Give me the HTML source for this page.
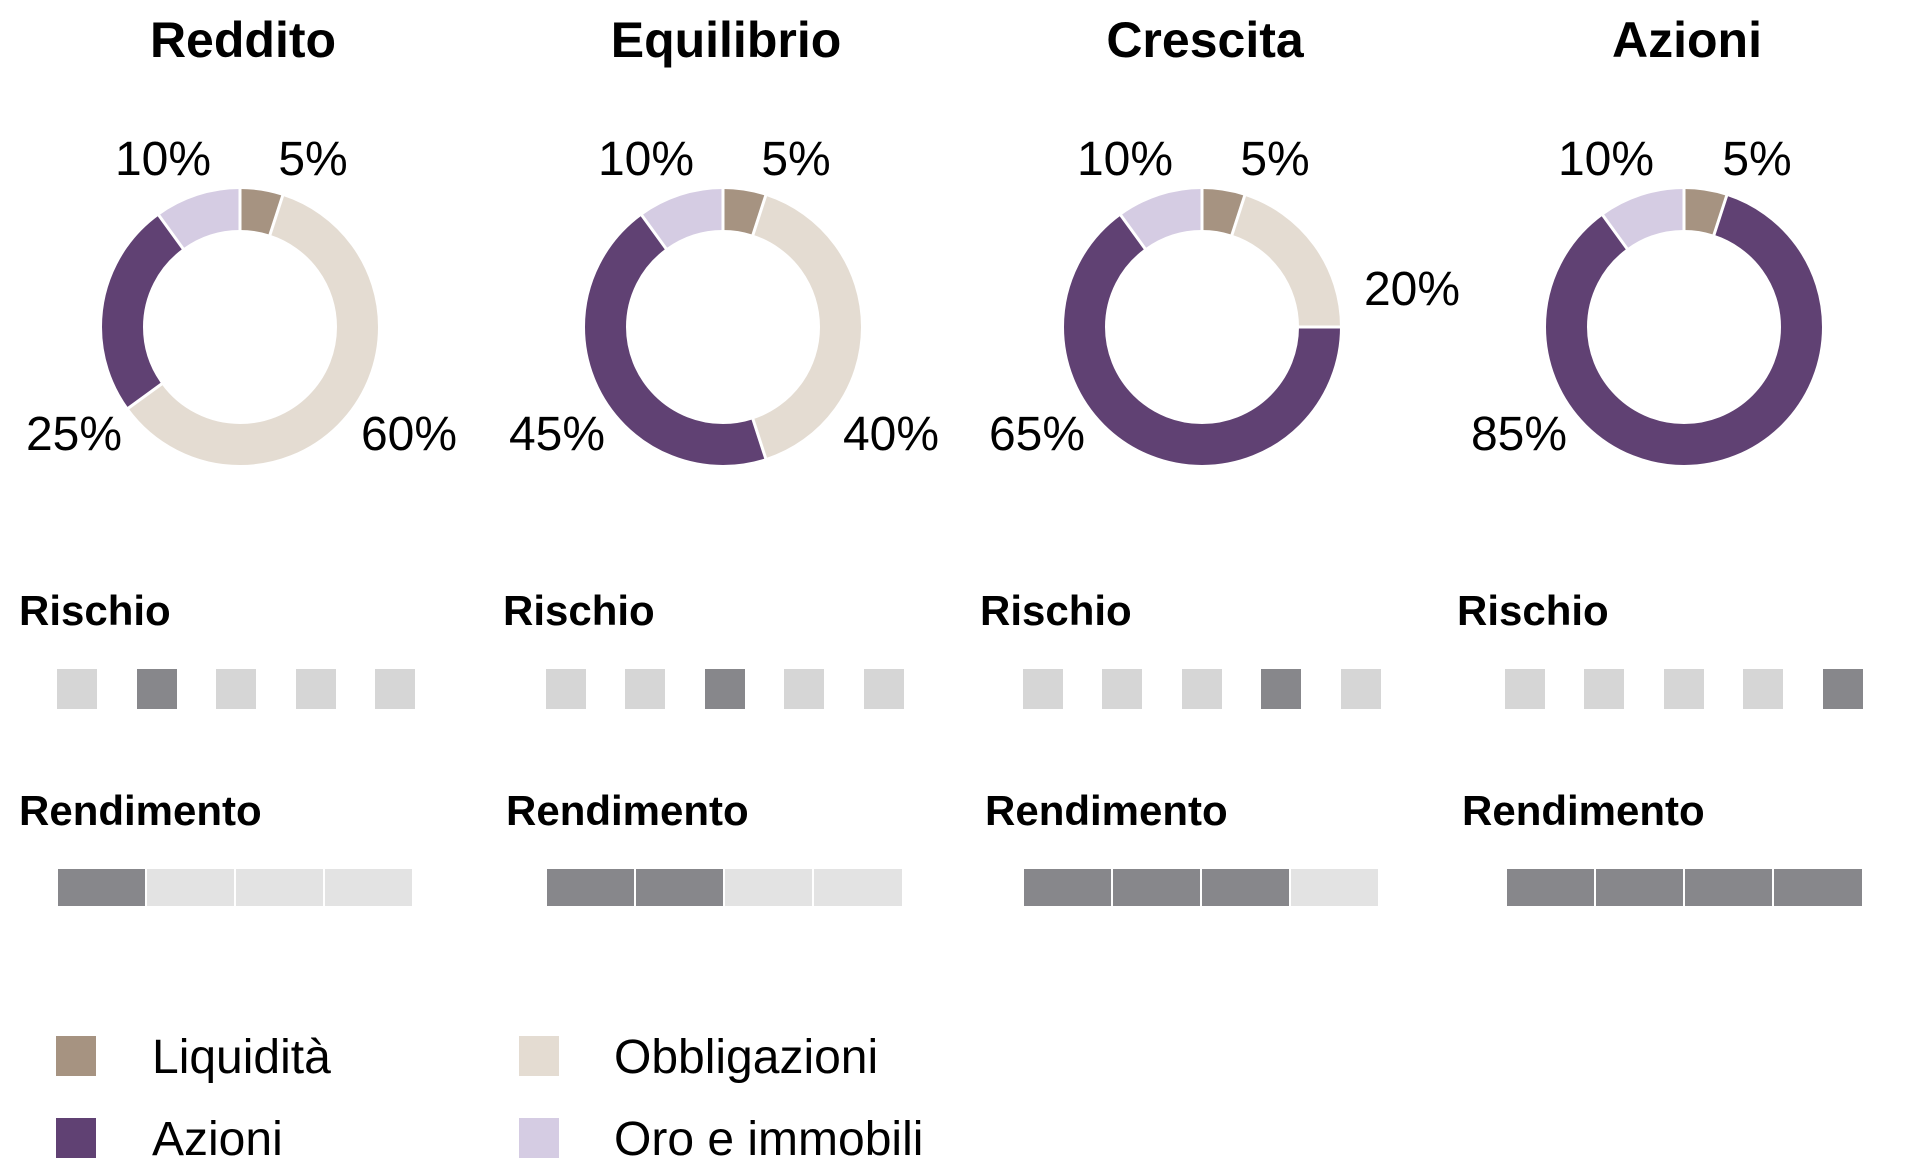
<!DOCTYPE html>
<html><head><meta charset="utf-8"><style>
html,body{margin:0;padding:0;background:#fff;}
svg{display:block;}
text{font-family:"Liberation Sans",Arial,sans-serif;fill:#000;}
.t{font-weight:bold;font-size:50px;text-anchor:middle;}
.p{font-size:48px;text-anchor:middle;}
.h{font-weight:bold;font-size:42px;}
.l{font-size:48px;}
</style></head><body>
<svg width="1920" height="1176" viewBox="0 0 1920 1176">
<defs>
<g id="sep" stroke="#fff" stroke-width="3"><line x1="0" y1="-94" x2="0" y2="-142"/></g>
</defs>
<text class="t" x="243" y="57">Reddito</text>
<text class="t" x="726" y="57">Equilibrio</text>
<text class="t" x="1205" y="57">Crescita</text>
<text class="t" x="1687" y="57">Azioni</text>

<g transform="translate(240,327)" fill="none" stroke-width="41">
<g transform="rotate(-90)">
<circle r="117.5" pathLength="100" stroke="#a69381" stroke-dasharray="5 100" stroke-dashoffset="0"/>
<circle r="117.5" pathLength="100" stroke="#e4dcd2" stroke-dasharray="60 100" stroke-dashoffset="-5"/>
<circle r="117.5" pathLength="100" stroke="#604173" stroke-dasharray="25 100" stroke-dashoffset="-65"/>
<circle r="117.5" pathLength="100" stroke="#d5cce3" stroke-dasharray="10 100" stroke-dashoffset="-90"/>
</g>
<use href="#sep"/><use href="#sep" transform="rotate(18)"/><use href="#sep" transform="rotate(234)"/><use href="#sep" transform="rotate(324)"/>
</g>
<g transform="translate(723,327)" fill="none" stroke-width="41">
<g transform="rotate(-90)">
<circle r="117.5" pathLength="100" stroke="#a69381" stroke-dasharray="5 100" stroke-dashoffset="0"/>
<circle r="117.5" pathLength="100" stroke="#e4dcd2" stroke-dasharray="40 100" stroke-dashoffset="-5"/>
<circle r="117.5" pathLength="100" stroke="#604173" stroke-dasharray="45 100" stroke-dashoffset="-45"/>
<circle r="117.5" pathLength="100" stroke="#d5cce3" stroke-dasharray="10 100" stroke-dashoffset="-90"/>
</g>
<use href="#sep"/><use href="#sep" transform="rotate(18)"/><use href="#sep" transform="rotate(162)"/><use href="#sep" transform="rotate(324)"/>
</g>
<g transform="translate(1202,327)" fill="none" stroke-width="41">
<g transform="rotate(-90)">
<circle r="117.5" pathLength="100" stroke="#a69381" stroke-dasharray="5 100" stroke-dashoffset="0"/>
<circle r="117.5" pathLength="100" stroke="#e4dcd2" stroke-dasharray="20 100" stroke-dashoffset="-5"/>
<circle r="117.5" pathLength="100" stroke="#604173" stroke-dasharray="65 100" stroke-dashoffset="-25"/>
<circle r="117.5" pathLength="100" stroke="#d5cce3" stroke-dasharray="10 100" stroke-dashoffset="-90"/>
</g>
<use href="#sep"/><use href="#sep" transform="rotate(18)"/><use href="#sep" transform="rotate(90)"/><use href="#sep" transform="rotate(324)"/>
</g>
<g transform="translate(1684,327)" fill="none" stroke-width="41">
<g transform="rotate(-90)">
<circle r="117.5" pathLength="100" stroke="#a69381" stroke-dasharray="5 100" stroke-dashoffset="0"/>
<circle r="117.5" pathLength="100" stroke="#604173" stroke-dasharray="85 100" stroke-dashoffset="-5"/>
<circle r="117.5" pathLength="100" stroke="#d5cce3" stroke-dasharray="10 100" stroke-dashoffset="-90"/>
</g>
<use href="#sep"/><use href="#sep" transform="rotate(18)"/><use href="#sep" transform="rotate(324)"/>
</g>

<text class="p" x="163" y="175">10%</text><text class="p" x="313" y="175">5%</text>
<text class="p" x="74" y="450">25%</text><text class="p" x="409" y="450">60%</text>
<text class="p" x="646" y="175">10%</text><text class="p" x="796" y="175">5%</text>
<text class="p" x="557" y="450">45%</text><text class="p" x="891" y="450">40%</text>
<text class="p" x="1125" y="175">10%</text><text class="p" x="1275" y="175">5%</text>
<text class="p" x="1412" y="305">20%</text><text class="p" x="1037" y="450">65%</text>
<text class="p" x="1606" y="175">10%</text><text class="p" x="1757" y="175">5%</text>
<text class="p" x="1519" y="450">85%</text>

<text class="h" x="19" y="625">Rischio</text>
<text class="h" x="503" y="625">Rischio</text>
<text class="h" x="980" y="625">Rischio</text>
<text class="h" x="1457" y="625">Rischio</text>
<g>
<rect x="57" y="669" width="40" height="40" fill="#d6d6d6"/><rect x="137" y="669" width="40" height="40" fill="#87878b"/><rect x="216" y="669" width="40" height="40" fill="#d6d6d6"/><rect x="296" y="669" width="40" height="40" fill="#d6d6d6"/><rect x="375" y="669" width="40" height="40" fill="#d6d6d6"/>
<rect x="546" y="669" width="40" height="40" fill="#d6d6d6"/><rect x="625" y="669" width="40" height="40" fill="#d6d6d6"/><rect x="705" y="669" width="40" height="40" fill="#87878b"/><rect x="784" y="669" width="40" height="40" fill="#d6d6d6"/><rect x="864" y="669" width="40" height="40" fill="#d6d6d6"/>
<rect x="1023" y="669" width="40" height="40" fill="#d6d6d6"/><rect x="1102" y="669" width="40" height="40" fill="#d6d6d6"/><rect x="1182" y="669" width="40" height="40" fill="#d6d6d6"/><rect x="1261" y="669" width="40" height="40" fill="#87878b"/><rect x="1341" y="669" width="40" height="40" fill="#d6d6d6"/>
<rect x="1505" y="669" width="40" height="40" fill="#d6d6d6"/><rect x="1584" y="669" width="40" height="40" fill="#d6d6d6"/><rect x="1664" y="669" width="40" height="40" fill="#d6d6d6"/><rect x="1743" y="669" width="40" height="40" fill="#d6d6d6"/><rect x="1823" y="669" width="40" height="40" fill="#87878b"/>
</g>

<text class="h" x="19" y="825">Rendimento</text>
<text class="h" x="506" y="825">Rendimento</text>
<text class="h" x="985" y="825">Rendimento</text>
<text class="h" x="1462" y="825">Rendimento</text>
<g>
<rect x="58" y="869" width="87" height="37" fill="#87878b"/><rect x="147" y="869" width="87" height="37" fill="#e3e3e3"/><rect x="236" y="869" width="87" height="37" fill="#e3e3e3"/><rect x="325" y="869" width="87" height="37" fill="#e3e3e3"/>
<rect x="547" y="869" width="87" height="37" fill="#87878b"/><rect x="636" y="869" width="87" height="37" fill="#87878b"/><rect x="725" y="869" width="87" height="37" fill="#e3e3e3"/><rect x="814" y="869" width="88" height="37" fill="#e3e3e3"/>
<rect x="1024" y="869" width="87" height="37" fill="#87878b"/><rect x="1113" y="869" width="87" height="37" fill="#87878b"/><rect x="1202" y="869" width="87" height="37" fill="#87878b"/><rect x="1291" y="869" width="87" height="37" fill="#e3e3e3"/>
<rect x="1507" y="869" width="87" height="37" fill="#87878b"/><rect x="1596" y="869" width="87" height="37" fill="#87878b"/><rect x="1685" y="869" width="87" height="37" fill="#87878b"/><rect x="1774" y="869" width="88" height="37" fill="#87878b"/>
</g>

<rect x="56" y="1036" width="40" height="40" fill="#a69381"/>
<rect x="56" y="1118" width="40" height="40" fill="#604173"/>
<rect x="519" y="1036" width="40" height="40" fill="#e4dcd2"/>
<rect x="519" y="1118" width="40" height="40" fill="#d5cce3"/>
<text class="l" x="152" y="1073">Liquidità</text>
<text class="l" x="152" y="1155">Azioni</text>
<text class="l" x="614" y="1073">Obbligazioni</text>
<text class="l" x="614" y="1155">Oro e immobili</text>
</svg>
</body></html>
